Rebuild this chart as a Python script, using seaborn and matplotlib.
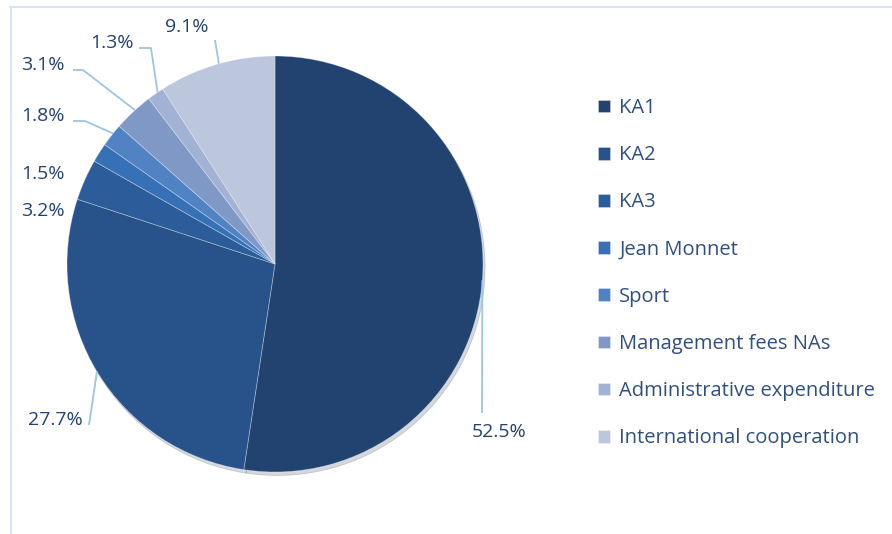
import numpy as np
import seaborn as sns
import matplotlib.pyplot as plt
from matplotlib.lines import Line2D

# budget shares (%)
categories = ["KA1", "KA2", "KA3", "Jean Monnet", "Sport",
              "Management fees NAs", "Administrative expenditure",
              "International cooperation"]
shares = [52.5, 27.7, 3.2, 1.5, 1.8, 3.1, 1.3, 9.1]
share_labels = ["52.5%", "27.7%", "3.2%", "1.5%", "1.8%", "3.1%", "1.3%", "9.1%"]

colors = ["#22436F", "#28538A", "#2C5C9A", "#3670B6", "#5082C4",
          "#7F98C6", "#A2B2D4", "#BCC7DE"]

sns.set_theme(style="white")
plt.rcParams["font.family"] = ["Open Sans", "DejaVu Sans"]

W, H = 892, 534
fig = plt.figure(figsize=(W / 100, H / 100), dpi=100)
ax = fig.add_axes([0, 0, 1, 1])

cx, cy, r = 275, 270, 208
wedges, _ = ax.pie(shares, colors=colors, startangle=90, counterclock=False,
                   center=(cx, cy), radius=r, frame=True,
                   wedgeprops=dict(edgecolor=(1, 1, 1, 0.35), linewidth=0.6),
                   shadow=dict(ox=1.5, oy=-2.5, shade=0.4, alpha=0.18))
ax.set_xlim(0, W)
ax.set_ylim(0, H)
ax.set_aspect("equal")
ax.axis("off")

text_color = "#24426E"
line_color = "#9DC3E6"

# label anchors (pixel coords from top-left) and leader knees
label_pos = [(499, 432), (55, 420), (43, 211), (43, 174), (43, 116),
             (43, 65), (112, 43), (187, 27)]
knees = [None, None, "none", "none", (85, 121), (83, 70), (151, 48), None]
starts = [(482, 413), (89, 425), None, None, (73, 121), (73, 70),
          (139, 48), (215, 40)]

cum = np.cumsum([0] + shares[:-1])
for i, w in enumerate(wedges):
    mid = 90 - (cum[i] + shares[i] / 2) / 100 * 360
    ex = cx + r * np.cos(np.radians(mid))
    ey = cy + r * np.sin(np.radians(mid))
    lx, ly = label_pos[i]
    ax.text(lx, H - ly, share_labels[i], ha="center", va="center",
            fontsize=14, color=text_color)
    if knees[i] == "none":
        continue
    sx, sy = starts[i]
    xs, ys = [sx], [H - sy]
    if knees[i] is not None:
        xs.append(knees[i][0])
        ys.append(H - knees[i][1])
    xs.append(ex)
    ys.append(ey)
    ax.plot(xs, ys, color=line_color, lw=1.3, solid_capstyle="butt")

leg = ax.legend(wedges, categories, loc="upper left",
                bbox_to_anchor=(588 / W, 1 - 88 / H), frameon=False,
                fontsize=14.5, handlelength=0.6, handleheight=0.6,
                handletextpad=0.45, labelspacing=1.35, borderpad=0)
for t in leg.get_texts():
    t.set_color("#2F4F7F")

# chart-area border (partly cut off at right/bottom)
fig.add_artist(Line2D([10 / W, 1], [1 - 7 / H, 1 - 7 / H], color="#D9E5F4",
                      lw=1.5, transform=fig.transFigure))
fig.add_artist(Line2D([11 / W, 11 / W], [0, 1 - 7 / H], color="#D9E5F4",
                      lw=1.5, transform=fig.transFigure))

fig.savefig("out.png", dpi=100, facecolor="white")
